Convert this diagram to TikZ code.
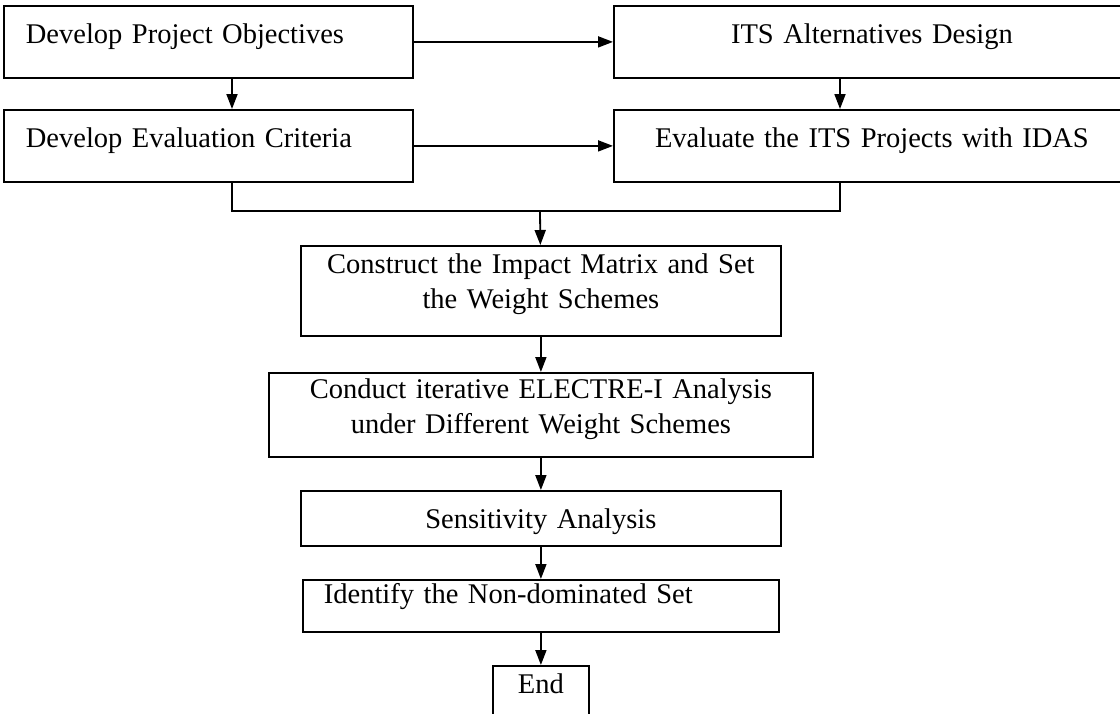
\documentclass[tikz,border=0pt]{standalone}
\usepackage{fontspec}
\setmainfont{Liberation Serif}
\usepackage{tikz}
\usetikzlibrary{arrows.meta,shapes}

\begin{document}
\begin{tikzpicture}[x=1pt, y=-1pt,
        box/.style={draw, line width=1.8pt, inner ysep=0pt, anchor=north west,
            font=\fontsize{28.5pt}{35pt}\selectfont},
        leftbox/.style={box, align=left, inner xsep=22pt},
        midbox/.style={box, align=center, inner xsep=10pt},
        arr/.style={line width=1.8pt, -{Triangle[length=15pt,width=11pt]}}]
        \useasboundingbox (0,0) rectangle (1120,713);
        \clip (0,0) rectangle (1120,713);
        %\draw[help lines] (0,0) grid (1120,713);
        \node[leftbox, text width=365pt, text height=38pt, text depth=34pt] (obj) at (3,5) {Develop Project Objectives};
        \node[leftbox, text width=365pt, text height=38pt, text depth=34pt] (crit) at (3,109) {Develop Evaluation Criteria};
        \node[midbox, text width=496pt, text height=38pt, text depth=34pt] (alt) at (613,5) {ITS Alternatives Design};
        \node[midbox, text width=496pt, text height=38pt, text depth=34pt] (eval) at (613,109) {Evaluate the ITS Projects with IDAS};
        \node[midbox, text width=460pt, text height=28pt, text depth=62pt] (matrix) at (300,245) {Construct the Impact Matrix and Set\\the Weight Schemes};
        \node[midbox, text width=524pt, text height=26pt, text depth=58pt] (electre) at (268,372) {Conduct iterative ELECTRE-I Analysis\\under Different Weight Schemes};
        \node[midbox, text width=460pt, text height=38pt, text depth=17pt] (sens) at (300,490) {Sensitivity Analysis};
        \node[box, align=left, inner xsep=21pt, text width=434pt, text height=24pt, text depth=28pt] (nondom) at (302,579) {Identify the Non-dominated Set};
        \node[midbox, text width=76pt, text height=28pt, text depth=60pt] (end) at (492,665) {End};
        \coordinate (lx) at (232,0);
        \coordinate (rx) at (840,0);
        \coordinate (join) at (540,211);
        \draw[arr] (obj) -- (alt);
        \draw[arr] (crit) -- (eval);
        \draw[arr] (obj.south -| lx) -- (crit.north -| lx);
        \draw[arr] (alt.south -| rx) -- (eval.north -| rx);
        \draw[line width=1.8pt] (crit.south -| lx) |- (join) -| (eval.south -| rx);
        \draw[arr] (join) -- (matrix);
        \draw[arr] (matrix) -- (electre);
        \draw[arr] (electre) -- (sens);
        \draw[arr] (sens) -- (nondom);
        \draw[arr] (nondom) -- (end);
    \end{tikzpicture}
\end{document}
